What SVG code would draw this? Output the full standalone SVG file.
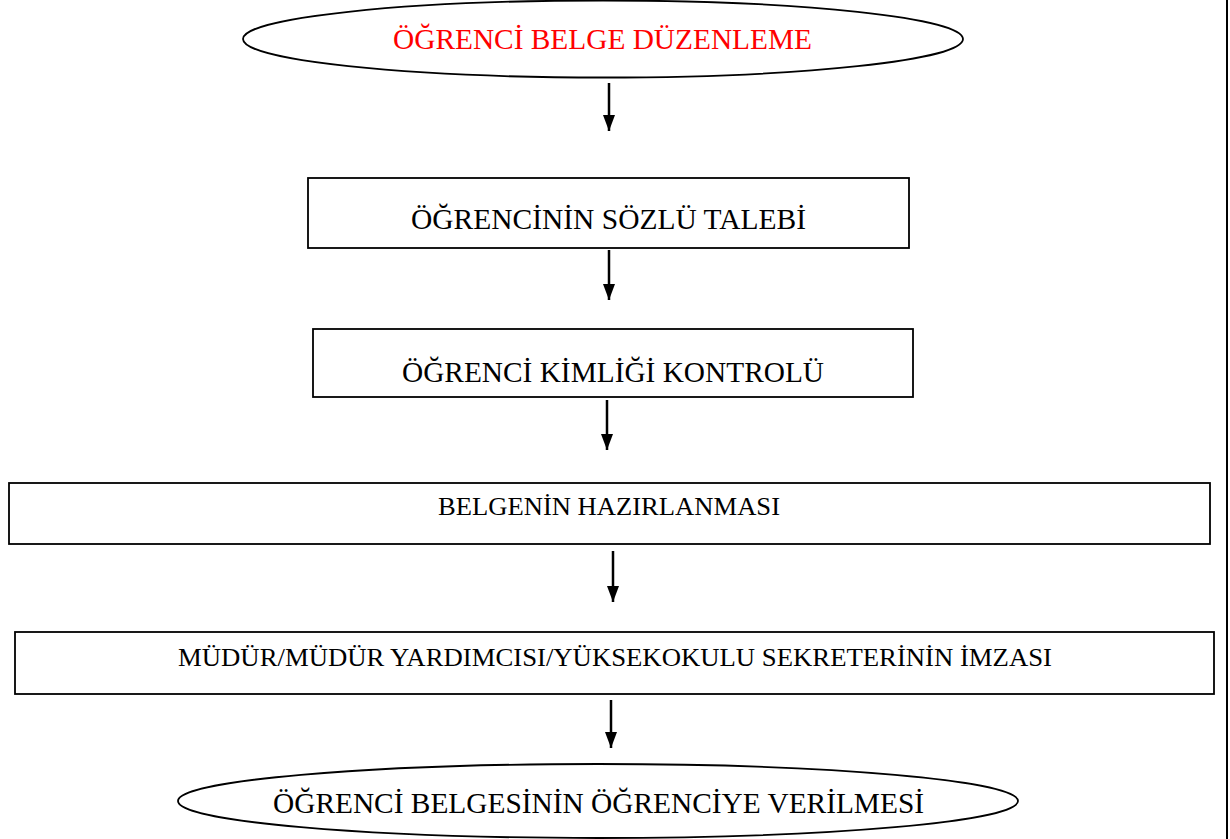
<svg xmlns="http://www.w3.org/2000/svg" width="1230" height="839" viewBox="0 0 1230 839">
<style>
.shape{fill:#fff;stroke:#000;stroke-width:1.8}
.t{font-family:"Liberation Serif","Times New Roman",serif;fill:#000;text-anchor:start}
.big{font-size:30px}
.small{font-size:26px}
.conn line{stroke:#000;stroke-width:2.5}
</style>
<defs>
<marker id="ah" markerWidth="16" markerHeight="12" refX="16" refY="6" orient="auto" markerUnits="userSpaceOnUse" viewBox="0 0 16 12">
<path d="M0,0 L16,6 L0,12 Z" fill="#000"/>
</marker>
</defs>
<rect width="1230" height="839" fill="#fff"/>
<line x1="1227" y1="0" x2="1227" y2="839" stroke="#000" stroke-width="2"/>
<g id="start">
<ellipse class="shape" cx="603" cy="39" rx="360" ry="38.5"/>
<text class="t big" x="393" y="49" style="fill:#f00" textLength="419" lengthAdjust="spacingAndGlyphs">ÖĞRENCİ BELGE DÜZENLEME</text>
</g>
<g id="talep">
<rect class="shape" x="308" y="178" width="601" height="70"/>
<text class="t big" x="411" y="229" textLength="395" lengthAdjust="spacingAndGlyphs">ÖĞRENCİNİN SÖZLÜ TALEBİ</text>
</g>
<g id="kimlik">
<rect class="shape" x="313" y="329" width="600" height="68"/>
<text class="t big" x="402" y="382" textLength="422" lengthAdjust="spacingAndGlyphs">ÖĞRENCİ KİMLİĞİ KONTROLÜ</text>
</g>
<g id="hazirlama">
<rect class="shape" x="9" y="483" width="1201" height="61"/>
<text class="t small" x="438" y="515" textLength="342" lengthAdjust="spacingAndGlyphs">BELGENİN HAZIRLANMASI</text>
</g>
<g id="imza">
<rect class="shape" x="15" y="632" width="1199" height="62"/>
<text class="t small" x="178" y="666" textLength="874" lengthAdjust="spacingAndGlyphs">MÜDÜR/MÜDÜR YARDIMCISI/YÜKSEKOKULU SEKRETERİNİN İMZASI</text>
</g>
<g id="end">
<ellipse class="shape" cx="598" cy="801" rx="420" ry="37"/>
<text class="t big" x="273" y="813" textLength="651" lengthAdjust="spacingAndGlyphs">ÖĞRENCİ BELGESİNİN ÖĞRENCİYE VERİLMESİ</text>
</g>
<g id="connectors" class="conn">
<line x1="609" y1="83" x2="609" y2="131" marker-end="url(#ah)"/>
<line x1="609" y1="250" x2="609" y2="300" marker-end="url(#ah)"/>
<line x1="607" y1="400" x2="607" y2="450" marker-end="url(#ah)"/>
<line x1="613" y1="551" x2="613" y2="602" marker-end="url(#ah)"/>
<line x1="611" y1="700" x2="611" y2="748" marker-end="url(#ah)"/>
</g>
</svg>
